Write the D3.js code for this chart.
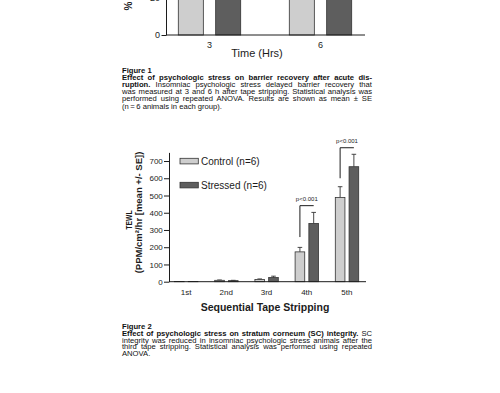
<!DOCTYPE html>
<html lang="en">
<head>
<meta charset="utf-8">
<title>Figures 1 and 2</title>
<script src="https://cdn.jsdelivr.net/npm/d3@7"></script>
<style>
  html, body { margin: 0; padding: 0; background: #fff; }
  svg { display: block; font-family: "Liberation Sans", Arial, Helvetica, sans-serif; }
</style>
</head>
<body>
<div id="chart"></div>
<script>
// figure 1 - only the bottom of this one is on the page
const hours = ["3", "6"];
const groups = ["Control", "Stressed"];
const recoveryControl = [45, 65];
const recoveryStressed = [30, 45];
const recoveryTicks = [0, 20, 40, 60, 80];

// figure 2
const strips = ["1st", "2nd", "3rd", "4th", "5th"];
const tewlControl = [1, 8, 13, 173, 489];
const tewlStressed = [1, 6, 24, 338, 667];
const tewlControlSE = [0, 2, 3, 26, 62];
const tewlStressedSE = [0, 2, 8, 64, 72];
const tewlTicks = [0, 100, 200, 300, 400, 500, 600, 700];
const legendLabels = ["Control (n=6)", "Stressed (n=6)"];
const sigStrips = ["4th", "5th"];
const sigLabels = ["p<0.001", "p<0.001"];
const sigBracket = [441, 777];   // height of the bracket bar
const sigLeftEnd = [259, 600];   // where the left leg stops

const caption1 = [
  ["Figure 1", "", false],
  ["Effect of psychologic stress on barrier recovery after acute dis-", "", true],
  ["ruption.", " Insomniac psychologic stress delayed barrier recovery that", true],
  ["", "was measured at 3 and 6 h after tape stripping. Statistical analysis was", true],
  ["", "performed using repeated ANOVA. Results are shown as mean \u00b1 SE", true],
  ["", "(n\u2009=\u20096 animals in each group).", false]
];
const caption2 = [
  ["Figure 2", "", false],
  ["Effect of psychologic stress on stratum corneum (SC) integrity.", " SC", true],
  ["", "integrity was reduced in insomniac psychologic stress animals after the", true],
  ["", "third tape stripping. Statistical analysis was performed using repeated", true],
  ["", "ANOVA.", false]
];

const fills = { Control: "#cecece", Stressed: "#5e5e5e" };
const ink = "#1c1c1c";

const svg = d3.select("#chart").append("svg")
  .attr("width", 500)
  .attr("height", 393);

svg.append("rect").attr("width", 500).attr("height", 393).attr("fill", "#fff");

// ---------- figure 1 ----------
const x1 = d3.scaleBand().domain(hours).range([154, 376]);
const x1in = d3.scaleBand().domain(groups).range([-31.2, 31.2]).paddingInner(0.33);
const y1 = d3.scaleLinear().domain([0, 20]).range([35, -2.5]);

const f1 = svg.append("g");
const rec = hours.map((h, i) => ({ h, vals: [recoveryControl[i], recoveryStressed[i]] }));

f1.selectAll("g.pair")
  .data(rec)
  .join("g")
  .attr("transform", d => `translate(${x1(d.h) + x1.bandwidth() / 2},0)`)
  .selectAll("rect")
  .data(d => d.vals.map((v, j) => ({ g: groups[j], v })))
  .join("rect")
  .attr("x", d => x1in(d.g))
  .attr("width", x1in.bandwidth())
  .attr("y", d => y1(d.v))
  .attr("height", d => y1(0) - y1(d.v))
  .attr("fill", d => fills[d.g])
  .attr("stroke", "#333")
  .attr("stroke-width", 0.8);

f1.append("g")
  .attr("transform", "translate(166,0)")
  .call(d3.axisLeft(y1).tickValues(recoveryTicks).tickSize(4.5).tickPadding(1.5).tickSizeOuter(0))
  .call(g => g.selectAll("path,line").attr("stroke", ink))
  .call(g => g.selectAll("text").attr("font-size", 9).attr("fill", ink).attr("font-family", null));

f1.append("line")
  .attr("x1", 166).attr("x2", 365)
  .attr("y1", y1(0)).attr("y2", y1(0))
  .attr("stroke", ink);

f1.selectAll("text.hr")
  .data(hours)
  .join("text")
  .attr("class", "hr")
  .attr("x", d => x1(d) + x1.bandwidth() / 2)
  .attr("y", 47.6)
  .attr("text-anchor", "middle")
  .attr("font-size", 9)
  .attr("fill", ink)
  .text(d => d);

f1.append("text")
  .attr("x", 257).attr("y", 57)
  .attr("text-anchor", "middle")
  .attr("font-size", 11)
  .attr("fill", ink)
  .text("Time (Hrs)");

f1.append("text")
  .attr("transform", "translate(128,6) rotate(-90)")
  .attr("text-anchor", "middle")
  .attr("dy", "0.35em")
  .attr("font-size", 10)
  .attr("font-weight", "bold")
  .attr("fill", ink)
  .text("%");

// ---------- figure 2 ----------
const x2 = d3.scaleBand().domain(strips).range([166, 367]);
const x2in = d3.scaleBand().domain(groups).range([-11.6, 11.8]).paddingInner(0.3);
const y2 = d3.scaleLinear().domain([0, 750]).range([281.7, 152.4]);

const f2 = svg.append("g");
const tewl = strips.map((s, i) => ({
  s,
  vals: [
    { g: "Control", v: tewlControl[i], se: tewlControlSE[i] },
    { g: "Stressed", v: tewlStressed[i], se: tewlStressedSE[i] }
  ]
}));

const bars = f2.selectAll("g.strip")
  .data(tewl)
  .join("g")
  .attr("class", "strip")
  .attr("transform", d => `translate(${x2(d.s) + x2.bandwidth() / 2},0)`)
  .selectAll("g")
  .data(d => d.vals)
  .join("g");

// error bars first so the bar outline sits over the stem
bars.filter(d => d.se > 0).append("path")
  .attr("d", d => {
    const cx = x2in(d.g) + x2in.bandwidth() / 2;
    return `M${cx},${y2(d.v)}V${y2(d.v + d.se)}M${cx - 2.3},${y2(d.v + d.se)}H${cx + 2.3}`;
  })
  .attr("fill", "none")
  .attr("stroke", "#333")
  .attr("stroke-width", 0.9);

bars.append("rect")
  .attr("x", d => x2in(d.g))
  .attr("width", x2in.bandwidth())
  .attr("y", d => y2(d.v))
  .attr("height", d => y2(0) - y2(d.v))
  .attr("fill", d => fills[d.g])
  .attr("stroke", "#333")
  .attr("stroke-width", 0.8);

f2.append("g")
  .attr("transform", "translate(169,0)")
  .call(d3.axisLeft(y2).tickValues(tewlTicks).tickSize(5).tickPadding(1.2).tickSizeOuter(0))
  .call(g => g.selectAll("path,line").attr("stroke", ink))
  .call(g => g.selectAll("text").attr("font-size", 8).attr("fill", ink).attr("font-family", null));

f2.append("line")
  .attr("x1", 169).attr("x2", 366)
  .attr("y1", y2(0)).attr("y2", y2(0))
  .attr("stroke", ink);

f2.selectAll("text.strip")
  .data(strips)
  .join("text")
  .attr("class", "strip")
  .attr("x", d => x2(d) + x2.bandwidth() / 2)
  .attr("y", 294.6)
  .attr("text-anchor", "middle")
  .attr("font-size", 8)
  .attr("fill", ink)
  .text(d => d);

f2.append("text")
  .attr("x", 265).attr("y", 311.4)
  .attr("text-anchor", "middle")
  .attr("font-size", 10.5)
  .attr("font-weight", "bold")
  .attr("fill", ink)
  .text("Sequential Tape Stripping");

f2.append("text")
  .attr("transform", "translate(129,220) rotate(-90)")
  .attr("text-anchor", "middle")
  .attr("dy", "0.35em")
  .attr("font-size", 9)
  .attr("font-weight", "bold")
  .attr("textLength", 19)
  .attr("lengthAdjust", "spacingAndGlyphs")
  .attr("fill", ink)
  .text("TEWL");

f2.append("text")
  .attr("transform", "translate(138.5,212.5) rotate(-90)")
  .attr("text-anchor", "middle")
  .attr("dy", "0.35em")
  .attr("font-size", 9.5)
  .attr("font-weight", "bold")
  .attr("fill", ink)
  .text("(PPM/cm\u00b2/hr [mean +/- SE])");

// legend
const leg = f2.selectAll("g.leg")
  .data(groups)
  .join("g")
  .attr("class", "leg")
  .attr("transform", (d, i) => `translate(180,${158.3 + i * 24})`);
leg.append("rect")
  .attr("width", 18.3).attr("height", 5.6)
  .attr("fill", d => fills[d])
  .attr("stroke", "#333")
  .attr("stroke-width", 0.8);
leg.append("text")
  .attr("x", 21).attr("y", 6.3)
  .attr("font-size", 10)
  .attr("fill", ink)
  .text((d, i) => legendLabels[i]);

// significance brackets
sigStrips.forEach((s, i) => {
  const c = x2(s) + x2.bandwidth() / 2;
  const xl = c + x2in("Control") + x2in.bandwidth() / 2;
  const xr = c + x2in("Stressed") + x2in.bandwidth() / 2;
  f2.append("path")
    .attr("d", `M${xl},${y2(sigLeftEnd[i])}V${y2(sigBracket[i])}H${xr}`)
    .attr("fill", "none")
    .attr("stroke", ink)
    .attr("stroke-width", 1);
  f2.append("text")
    .attr("x", (xl + xr) / 2)
    .attr("y", y2(sigBracket[i]) - 4.3)
    .attr("text-anchor", "middle")
    .attr("font-size", 6)
    .attr("fill", ink)
    .text(sigLabels[i]);
});

// ---------- captions ----------
// small type, widened a little, then justified with word spacing
function caption(lines, top, step) {
  const left = 122, width = 250, stretch = 1.16;
  lines.forEach((ln, i) => {
    const t = svg.append("text")
      .attr("transform", `translate(${left},${top + i * step}) scale(${stretch},1)`)
      .attr("font-size", 6.6)
      .attr("fill", "#111");
    if (ln[0]) t.append("tspan").attr("font-weight", "bold").text(ln[0]);
    if (ln[1]) t.append("tspan").text(ln[1]);
    if (ln[2]) {
      const natural = t.node().getComputedTextLength();
      const spaces = (ln[0] + ln[1]).split(" ").length - 1;
      if (spaces > 0) t.attr("word-spacing", (width / stretch - natural) / spaces);
    }
  });
}
caption(caption1, 72.5, 7.2);
caption(caption2, 328.6, 6.95);
</script>
</body>
</html>
